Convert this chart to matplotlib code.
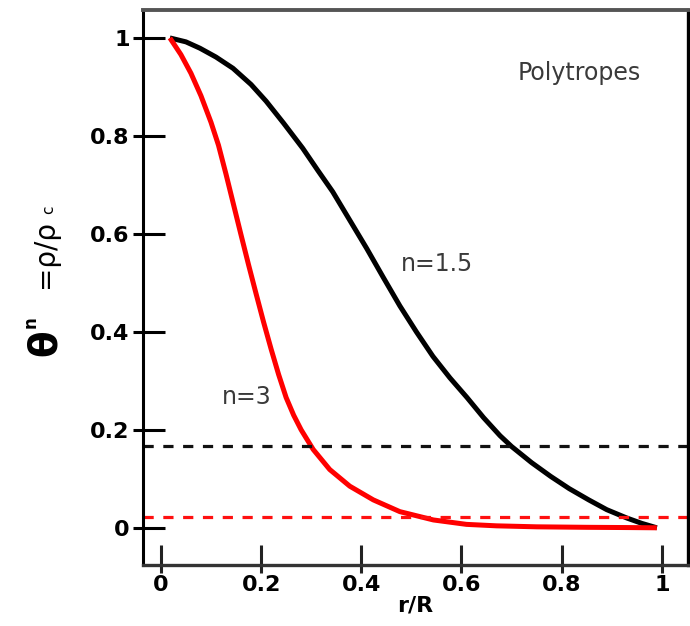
import numpy as np
import matplotlib
matplotlib.use("Agg")
import matplotlib.pyplot as plt

# density profiles theta^n = rho/rho_c against r/R
r_n15 = [0.018, 0.05, 0.078, 0.11, 0.144, 0.18, 0.21, 0.245, 0.283, 0.313, 0.343, 0.377,
         0.411, 0.444, 0.477, 0.51, 0.543, 0.577, 0.611, 0.644, 0.677, 0.70, 0.74, 0.778,
         0.815, 0.854, 0.89, 0.93, 0.96, 0.99]
rho_n15 = [1.000, 0.992, 0.979, 0.961, 0.938, 0.905, 0.871, 0.826, 0.775, 0.730, 0.686, 0.628,
           0.570, 0.511, 0.453, 0.400, 0.350, 0.306, 0.266, 0.225, 0.188, 0.166, 0.133, 0.105,
           0.080, 0.057, 0.037, 0.020, 0.009, 0.000]

r_n3 = [0.018, 0.040, 0.060, 0.080, 0.100, 0.115, 0.130, 0.145, 0.160, 0.175, 0.190, 0.205,
        0.220, 0.235, 0.250, 0.265, 0.280, 0.304, 0.337, 0.377, 0.424, 0.477, 0.544, 0.610,
        0.670, 0.75, 0.85, 0.93, 0.99]
rho_n3 = [1.000, 0.966, 0.928, 0.882, 0.828, 0.781, 0.722, 0.660, 0.598, 0.537, 0.478, 0.420,
          0.365, 0.313, 0.266, 0.230, 0.200, 0.160, 0.119, 0.085, 0.057, 0.033, 0.016, 0.007,
          0.004, 0.002, 0.001, 0.0005, 0.000]

# mean density / central density
mean_n15 = 0.167
mean_n3 = 0.0225

yticks = [0, 0.2, 0.4, 0.6, 0.8, 1]
ytick_labels = ["0", "0.2", "0.4", "0.6", "0.8", "1"]
xticks = [0, 0.2, 0.4, 0.6, 0.8, 1]
xtick_labels = ["0", "0.2", "0.4", "0.6", "0.8", "1"]

fig = plt.figure(figsize=(6.9, 6.26), dpi=100)
ax = fig.add_axes([0.207, 0.0974, 0.790, 0.8866])

ax.plot(r_n15, rho_n15, color="black", lw=3.6, solid_capstyle="butt", solid_joinstyle="round")
ax.plot(r_n3, rho_n3, color="#ff0000", lw=3.6, solid_capstyle="butt", solid_joinstyle="round")
ax.axhline(mean_n15, color="#111111", lw=2.3, linestyle=(0, (3.2, 3.0)))
ax.axhline(mean_n3, color="#ff1010", lw=2.3, linestyle=(0, (3.2, 3.0)))

ax.text(0.836, 0.928, "Polytropes", fontsize=17, color="#3a3a3a", ha="center", va="center")
ax.text(0.551, 0.539, "n=1.5", fontsize=17, color="#3a3a3a", ha="center", va="center")
ax.text(0.172, 0.268, "n=3", fontsize=17, color="#3a3a3a", ha="center", va="center")

ax.set_xlim(-0.036, 1.052)
ax.set_ylim(-0.076, 1.057)

# ticks cross the spines: inner part as major, outer part as minor at same spots
ax.set_yticks(yticks)
ax.set_yticklabels(ytick_labels, fontsize=16, fontweight="bold")
ax.set_xticks(xticks)
ax.set_xticklabels(xtick_labels, fontsize=16, fontweight="bold")
ax.set_yticks(yticks, minor=True)
ax.set_xticks(xticks, minor=True)
ax.yaxis.remove_overlapping_locs = False
ax.xaxis.remove_overlapping_locs = False
ax.tick_params(axis="y", which="major", direction="in", length=15.8, width=2.2, pad=9.5, color="black")
ax.tick_params(axis="y", which="minor", direction="out", length=7.2, width=2.2, color="black")
ax.tick_params(axis="x", which="major", direction="in", length=14.4, width=2.2, pad=7.5, color="#222222")
ax.tick_params(axis="x", which="minor", direction="out", length=5.8, width=2.2, color="#222222")

ax.set_xlabel("r/R", fontsize=16, fontweight="bold", labelpad=0)

for side, col, w in [("left", "black", 2.2), ("right", "black", 2.4),
                     ("top", "#555555", 2.8), ("bottom", "#333333", 2.4)]:
    ax.spines[side].set_color(col)
    ax.spines[side].set_linewidth(w)

# y label built from pieces so theta can be large
W, H = 690, 626
def ftext(px, py, s, **kw):
    fig.text(px / W, 1 - py / H, s, rotation=90, ha="center", va="center", **kw)

ftext(45, 343, "θ", fontsize=28, fontweight="bold")
ftext(31, 322, "n", fontsize=12, fontweight="bold")
ftext(45, 254, "=ρ/ρ", fontsize=20)
ftext(49, 210, "c", fontsize=11)

fig.savefig("out.png", dpi=100)
